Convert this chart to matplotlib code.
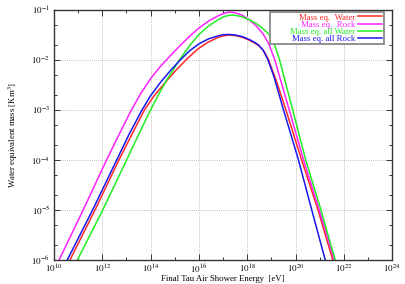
import numpy as np
import matplotlib
matplotlib.use("Agg")
from matplotlib import pyplot as plt
import matplotlib.ticker as mticker
from matplotlib.patches import Rectangle

plt.rcParams['font.family'] = ['Liberation Serif', 'DejaVu Serif']
plt.rcParams['mathtext.fontset'] = 'stix'

# log10 of energy [eV] and log10 of water equivalent mass [km^3]
water_logE = [10.66, 11.70, 12.69, 13.25, 13.75, 14.15, 14.60, 15.05, 15.52, 15.95, 16.35, 16.75,
              17.00, 17.25, 17.50, 17.80, 18.10, 18.30, 18.50, 18.70, 18.88, 19.20, 19.60, 20.25,
              20.93, 21.54]
water_logM = [-6.0, -5.0, -4.0, -3.47, -3.0, -2.72, -2.46, -2.21, -1.98, -1.79, -1.66, -1.565,
              -1.527, -1.51, -1.52, -1.555, -1.615, -1.667, -1.73, -1.84, -2.0, -2.42, -3.0, -4.0,
              -5.0, -6.0]

rock_logE = [10.21, 11.21, 12.18, 12.70, 13.19, 13.60, 14.00, 14.40, 14.80, 15.20, 15.60, 16.00,
             16.40, 16.80, 17.05, 17.26, 17.50, 17.80, 18.10, 18.40, 18.67, 18.90, 19.15, 19.40,
             19.73, 20.33, 20.98, 21.60]
rock_logM = [-6.0, -5.0, -4.0, -3.49, -3.02, -2.67, -2.38, -2.14, -1.93, -1.73, -1.54, -1.37,
             -1.23, -1.125, -1.075, -1.05, -1.063, -1.116, -1.209, -1.342, -1.497, -1.694, -2.02, -2.44,
             -2.99, -4.0, -5.0, -6.0]

all_water_logE = [10.97, 12.02, 13.01, 13.50, 14.00, 14.35, 14.65, 15.20, 15.60, 16.00, 16.40, 16.80,
                  17.05, 17.30, 17.55, 17.80, 18.10, 18.40, 18.65, 18.90, 19.10, 19.33, 19.60, 19.88,
                  20.42, 21.05, 21.64]
all_water_logM = [-6.0, -5.0, -4.0, -3.5, -3.0, -2.68, -2.42, -2.0, -1.73, -1.50, -1.33, -1.20,
                  -1.14, -1.11, -1.119, -1.148, -1.206, -1.29, -1.38, -1.494, -1.654, -1.99, -2.49, -3.0,
                  -4.0, -5.0, -6.0]

all_rock_logE = [10.55, 11.60, 12.60, 13.10, 13.65, 14.00, 14.40, 14.80, 15.20, 15.60, 16.00, 16.40,
                 16.80, 17.00, 17.22, 17.50, 17.80, 18.10, 18.30, 18.47, 18.65, 18.85, 19.10, 19.50,
                 20.12, 20.67, 21.23]
all_rock_logM = [-6.0, -5.0, -4.0, -3.5, -3.0, -2.72, -2.46, -2.23, -2.02, -1.83, -1.685, -1.585,
                 -1.525, -1.505, -1.497, -1.508, -1.542, -1.602, -1.654, -1.708, -1.805, -1.996, -2.33, -3.0,
                 -4.0, -5.0, -6.0]

series = [
    ("Mass eq.  Water", water_logE, water_logM, "#ff2828"),
    ("Mass eq.  Rock", rock_logE, rock_logM, "#ff22ff"),
    ("Mass eq. all Water", all_water_logE, all_water_logM, "#22ee22"),
    ("Mass eq. all Rock", all_rock_logE, all_rock_logM, "#1818f0"),
]


def decade_label(v, pos):
    return r'$10^{%d}$' % round(np.log10(v))


def main():
    fig = plt.figure(figsize=(4.05, 2.84), dpi=100)
    ax = fig.add_axes([0.1333, 0.0845, 0.835, 0.882])

    for label, le, lm, color in series:
        ax.plot(10.0 ** np.array(le), 10.0 ** np.array(lm), color=color, lw=1.1, label=label)

    ax.set_xscale('log')
    ax.set_yscale('log')
    ax.set_xlim(1e10, 1e24)
    ax.set_ylim(1e-6, 1e-1)

    ax.xaxis.set_major_locator(mticker.FixedLocator([10.0 ** k for k in range(10, 25, 2)]))
    ax.xaxis.set_minor_locator(mticker.FixedLocator([10.0 ** k for k in range(11, 24, 2)]))
    ax.xaxis.set_major_formatter(mticker.FuncFormatter(decade_label))
    ax.xaxis.set_minor_formatter(mticker.NullFormatter())
    ax.yaxis.set_major_locator(mticker.LogLocator(base=10, numticks=10))
    ax.yaxis.set_minor_locator(mticker.LogLocator(base=10, subs=(2.0, 5.0), numticks=10))
    ax.yaxis.set_major_formatter(mticker.FuncFormatter(decade_label))
    ax.yaxis.set_minor_formatter(mticker.NullFormatter())

    ax.tick_params(which='both', direction='in', top=True, right=True, labelsize=6.5,
                   color='#333333', width=0.7)
    ax.tick_params(which='major', length=4)
    ax.tick_params(which='minor', length=2)
    ax.tick_params(axis='x', pad=2)
    ax.tick_params(axis='y', pad=3)
    for s in ax.spines.values():
        s.set_color('#333333')
        s.set_linewidth(1.0)

    ax.grid(True, which='major', linestyle=(0, (1, 1.5)), color='#aaaaaa', linewidth=0.6)

    ax.set_xlabel('Final Tau Air Shower Energy  [eV]', fontsize=6.3, labelpad=0)
    ax.set_ylabel(r'Water equivalent mass [Km$^3$]', fontsize=6.3, labelpad=8)

    # key box, drawn separately so its padding can follow the original
    ax.add_patch(Rectangle((0.639, 0.862), 0.337, 0.129, transform=ax.transAxes,
                           facecolor='white', edgecolor='#888888', linewidth=1.3, zorder=4))
    ax.legend(loc='upper right', bbox_to_anchor=(0.974, 0.988), borderaxespad=0,
              fontsize=6.3, markerfirst=False, labelcolor='linecolor', frameon=False,
              handlelength=2.75, labelspacing=-0.12, handletextpad=0.4,
              borderpad=0.1).set_zorder(5)

    fig.savefig('out.png', dpi=100)


if __name__ == "__main__":
    main()
